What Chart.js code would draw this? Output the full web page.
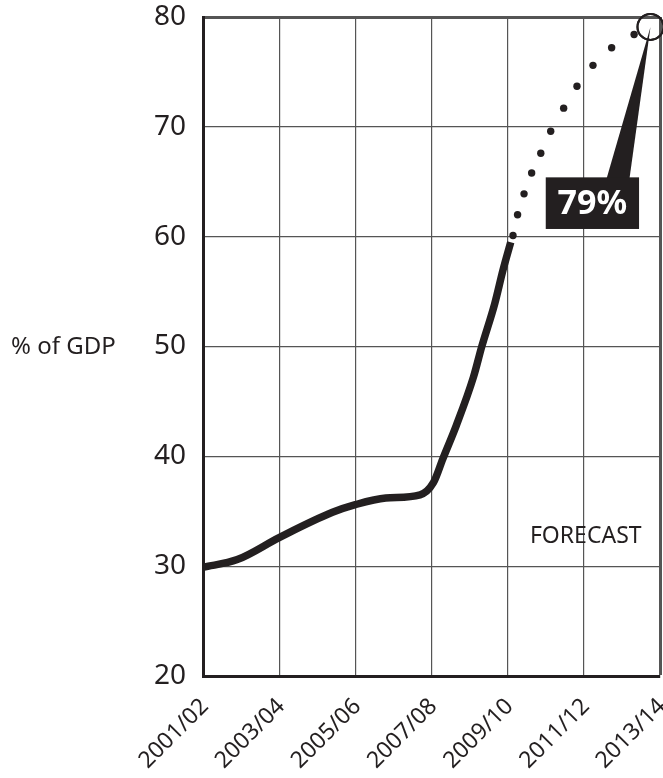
<!DOCTYPE html>
<html>
<head>
<meta charset="utf-8">
<title>% of GDP</title>
<script src="https://cdn.jsdelivr.net/npm/chart.js@4.4.1/dist/chart.umd.min.js"></script>
<style>
  html, body { margin: 0; padding: 0; background: #fff; }
  canvas { display: block; }
</style>
</head>
<body>
<canvas id="debtChart" width="663" height="778"></canvas>
<script>
// x = start of the financial year (2001 -> 2001/02)
const actualYears = [2001.0, 2001.9, 2003.0, 2004.4, 2005.0, 2005.8, 2006.7, 2007.05, 2007.3, 2007.65, 2008.1, 2008.32, 2008.66, 2008.88, 2009.08];
const actualDebt  = [29.9, 30.6, 32.6, 34.9, 35.6, 36.2, 36.5, 37.6, 39.8, 42.8, 47.2, 50.0, 53.9, 57.0, 59.5];

const forecastYears = [2009.14, 2009.26, 2009.43, 2009.63, 2009.87, 2010.13, 2010.47, 2010.82, 2011.24, 2011.73, 2012.32];
const forecastDebt  = [60.1, 62.0, 63.9, 65.8, 67.6, 69.6, 71.7, 73.7, 75.6, 77.2, 78.4];

const peakYear = [2012.75];
const peakDebt = [79.1];
const peakLabel = '79%';

const xTickYears  = [2001, 2003, 2005, 2007, 2009, 2011, 2013];
const xTickLabels = ['2001/02', '2003/04', '2005/06', '2007/08', '2009/10', '2011/12', '2013/14'];
const yTickValues = [20, 30, 40, 50, 60, 70, 80];

const axisTitle = '% of GDP';
const forecastText = 'FORECAST';

const INK = '#231f20';
const GRID = '#555';
const FONT = '"Noto Sans", "Open Sans", sans-serif';

function toXY(xs, ys) {
  return xs.map((x, i) => ({ x: x, y: ys[i] }));
}

// extra labels: axis title, FORECAST, and the 79% callout
const labelsPlugin = {
  id: 'extraLabels',
  afterDatasetsDraw(chart) {
    const { ctx, scales: { x, y } } = chart;
    ctx.save();

    // axis title, horizontal, level with 50
    ctx.fillStyle = INK;
    ctx.font = '24px ' + FONT;
    ctx.textAlign = 'left';
    ctx.textBaseline = 'middle';
    ctx.fillText(axisTitle, 11, y.getPixelForValue(50) + 1);

    // FORECAST
    ctx.font = '23px ' + FONT;
    ctx.textAlign = 'center';
    ctx.fillText(forecastText, x.getPixelForValue(2011.05), y.getPixelForValue(32.7));

    // callout box + pointer
    const tipX = x.getPixelForValue(peakYear[0]);
    const tipY = y.getPixelForValue(peakDebt[0]);
    const bx0 = x.getPixelForValue(2010.0), bx1 = x.getPixelForValue(2012.45);
    const by0 = y.getPixelForValue(65.4),   by1 = y.getPixelForValue(60.7);
    ctx.fillStyle = INK;
    ctx.beginPath();
    ctx.moveTo(x.getPixelForValue(2011.6), by0 + 1);
    ctx.lineTo(tipX, tipY);
    ctx.lineTo(x.getPixelForValue(2012.2), by0 + 1);
    ctx.closePath();
    ctx.fill();
    ctx.fillRect(bx0, by0, bx1 - bx0, by1 - by0);

    ctx.fillStyle = '#fff';
    ctx.font = 'bold 34px ' + FONT;
    ctx.textAlign = 'center';
    ctx.fillText(peakLabel, (bx0 + bx1) / 2, (by0 + by1) / 2 + 1);

    // ring drawn again on top of the pointer
    ctx.strokeStyle = INK;
    ctx.lineWidth = 2;
    ctx.beginPath();
    ctx.arc(tipX, tipY, 13, 0, Math.PI * 2);
    ctx.stroke();
    ctx.restore();
  }
};

new Chart(document.getElementById('debtChart'), {
  type: 'scatter',
  data: {
    datasets: [
      {
        label: 'Outturn',
        data: toXY(actualYears, actualDebt),
        showLine: true,
        borderColor: INK,
        borderWidth: 7.5,
        borderCapStyle: 'butt',
        cubicInterpolationMode: 'monotone',
        pointRadius: 0
      },
      {
        label: 'Forecast',
        data: toXY(forecastYears, forecastDebt),
        showLine: false,
        pointRadius: 3.7,
        pointBackgroundColor: INK,
        pointBorderWidth: 0,
        clip: false
      },
      {
        label: 'Peak',
        data: toXY(peakYear, peakDebt),
        showLine: false,
        pointRadius: 13,
        pointBackgroundColor: 'rgba(0,0,0,0)',
        pointBorderColor: INK,
        pointBorderWidth: 2,
        clip: false
      }
    ]
  },
  options: {
    responsive: false,
    animation: false,
    devicePixelRatio: 1,
    layout: { autoPadding: false, padding: { top: 17, right: 3, left: 0, bottom: 0 } },
    plugins: {
      legend: { display: false },
      tooltip: { enabled: false }
    },
    scales: {
      x: {
        type: 'linear',
        min: 2001,
        max: 2013,
        afterBuildTicks: s => { s.ticks = xTickYears.map(v => ({ value: v })); },
        afterFit: s => { s.height = 102; s.paddingLeft = 0; s.paddingRight = 0; },
        border: { display: true, color: INK, width: 3 },
        grid: {
          drawTicks: false,
          color: GRID,
          lineWidth: c => (c.tick && c.tick.value === 2013 ? 3 : 1.2)
        },
        ticks: {
          autoSkip: false,
          minRotation: 45,
          maxRotation: 45,
          padding: 17,
          labelOffset: 2,
          color: INK,
          font: { family: FONT, size: 23 },
          callback: v => xTickLabels[xTickYears.indexOf(v)]
        }
      },
      y: {
        min: 20,
        max: 80,
        afterBuildTicks: s => { s.ticks = yTickValues.map(v => ({ value: v })); },
        afterFit: s => { s.width = 203; s.paddingTop = 0; s.paddingBottom = 0; },
        border: { display: true, color: INK, width: 3 },
        grid: {
          drawTicks: false,
          color: GRID,
          lineWidth: c => (c.tick && c.tick.value === 80 ? 3 : 1.2)
        },
        ticks: {
          padding: 17,
          color: INK,
          font: { family: FONT, size: 28 }
        }
      }
    }
  },
  plugins: [labelsPlugin]
});
</script>
</body>
</html>
